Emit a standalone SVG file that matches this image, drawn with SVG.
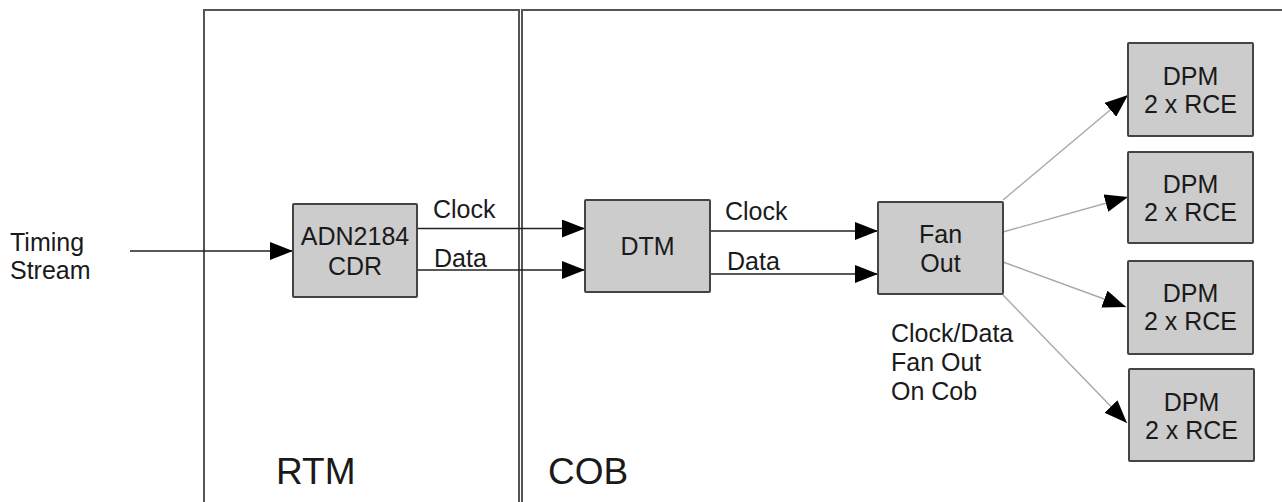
<svg xmlns="http://www.w3.org/2000/svg" width="1282" height="502" viewBox="0 0 1282 502">
  <style>
    .region { fill: none; stroke: #555; stroke-width: 2; }
    .box { fill: #cccccc; stroke: #444; stroke-width: 2; }
    .lbl { font-family: "Liberation Sans", Arial, sans-serif; font-size: 25px; fill: #1a1a1a; }
    .mid { text-anchor: middle; }
    .big { font-size: 37px; }
    .wire { stroke: #222; stroke-width: 1.6; fill: none; }
    .fan { stroke: #a8a8a8; stroke-width: 1.4; fill: none; }
  </style>
  <defs>
    <marker id="arrow" markerUnits="userSpaceOnUse" markerWidth="24" markerHeight="18" refX="23" refY="9" orient="auto">
      <path d="M0,0 L23,9 L0,18 Z" fill="#000"/>
    </marker>
  </defs>

  <rect width="1282" height="502" fill="#fff"/>

  <!-- board regions -->
  <g id="rtm">
    <path class="region" d="M204,520 V10 H519 V520"/>
    <text class="lbl big" x="276" y="484">RTM</text>
  </g>
  <g id="cob">
    <path class="region" d="M522,520 V10 H1290"/>
    <text class="lbl big" x="548" y="484">COB</text>
  </g>

  <!-- input label -->
  <g id="timing-stream">
    <text class="lbl" x="10" y="251">Timing</text>
    <text class="lbl" x="10" y="279">Stream</text>
  </g>

  <!-- connectors -->
  <g id="connectors">
    <line class="wire" x1="130" y1="251" x2="293" y2="251" marker-end="url(#arrow)"/>
    <line class="wire" x1="417" y1="228.5" x2="585" y2="228.5" marker-end="url(#arrow)"/>
    <line class="wire" x1="417" y1="270" x2="585" y2="270" marker-end="url(#arrow)"/>
    <line class="wire" x1="710" y1="231" x2="878" y2="231" marker-end="url(#arrow)"/>
    <line class="wire" x1="710" y1="274" x2="878" y2="274" marker-end="url(#arrow)"/>
    <line class="fan" x1="1003" y1="200" x2="1128" y2="95" marker-end="url(#arrow)"/>
    <line class="fan" x1="1003" y1="232" x2="1128" y2="197" marker-end="url(#arrow)"/>
    <line class="fan" x1="1003" y1="262" x2="1126" y2="307" marker-end="url(#arrow)"/>
    <line class="fan" x1="1003" y1="295" x2="1127" y2="423" marker-end="url(#arrow)"/>
    <text class="lbl" x="433" y="218">Clock</text>
    <text class="lbl" x="434" y="267">Data</text>
    <text class="lbl" x="725" y="220">Clock</text>
    <text class="lbl" x="727" y="270">Data</text>
  </g>

  <g id="cdr">
    <rect class="box" x="293" y="204" width="124" height="93" rx="1"/>
    <text class="lbl mid" x="355" y="245">ADN2184</text>
    <text class="lbl mid" x="355" y="275">CDR</text>
  </g>

  <g id="dtm">
    <rect class="box" x="585" y="200" width="125" height="92" rx="1"/>
    <text class="lbl mid" x="647.5" y="255">DTM</text>
  </g>

  <g id="fanout">
    <rect class="box" x="878" y="202" width="125" height="92" rx="1"/>
    <text class="lbl mid" x="940.5" y="243">Fan</text>
    <text class="lbl mid" x="940.5" y="272">Out</text>
  </g>

  <g id="fanout-note">
    <text class="lbl" x="891" y="342">Clock/Data</text>
    <text class="lbl" x="891" y="371">Fan Out</text>
    <text class="lbl" x="891" y="400">On Cob</text>
  </g>

  <g id="dpm1">
    <rect class="box" x="1128" y="43" width="125" height="93" rx="1"/>
    <text class="lbl mid" x="1190.5" y="85">DPM</text>
    <text class="lbl mid" x="1190.5" y="113">2 x RCE</text>
  </g>
  <g id="dpm2">
    <rect class="box" x="1128" y="152" width="125" height="91" rx="1"/>
    <text class="lbl mid" x="1190.5" y="193">DPM</text>
    <text class="lbl mid" x="1190.5" y="221">2 x RCE</text>
  </g>
  <g id="dpm3">
    <rect class="box" x="1128" y="261" width="125" height="93" rx="1"/>
    <text class="lbl mid" x="1190.5" y="302">DPM</text>
    <text class="lbl mid" x="1190.5" y="330">2 x RCE</text>
  </g>
  <g id="dpm4">
    <rect class="box" x="1129" y="369" width="125" height="92" rx="1"/>
    <text class="lbl mid" x="1191.5" y="411">DPM</text>
    <text class="lbl mid" x="1191.5" y="439">2 x RCE</text>
  </g>
</svg>
